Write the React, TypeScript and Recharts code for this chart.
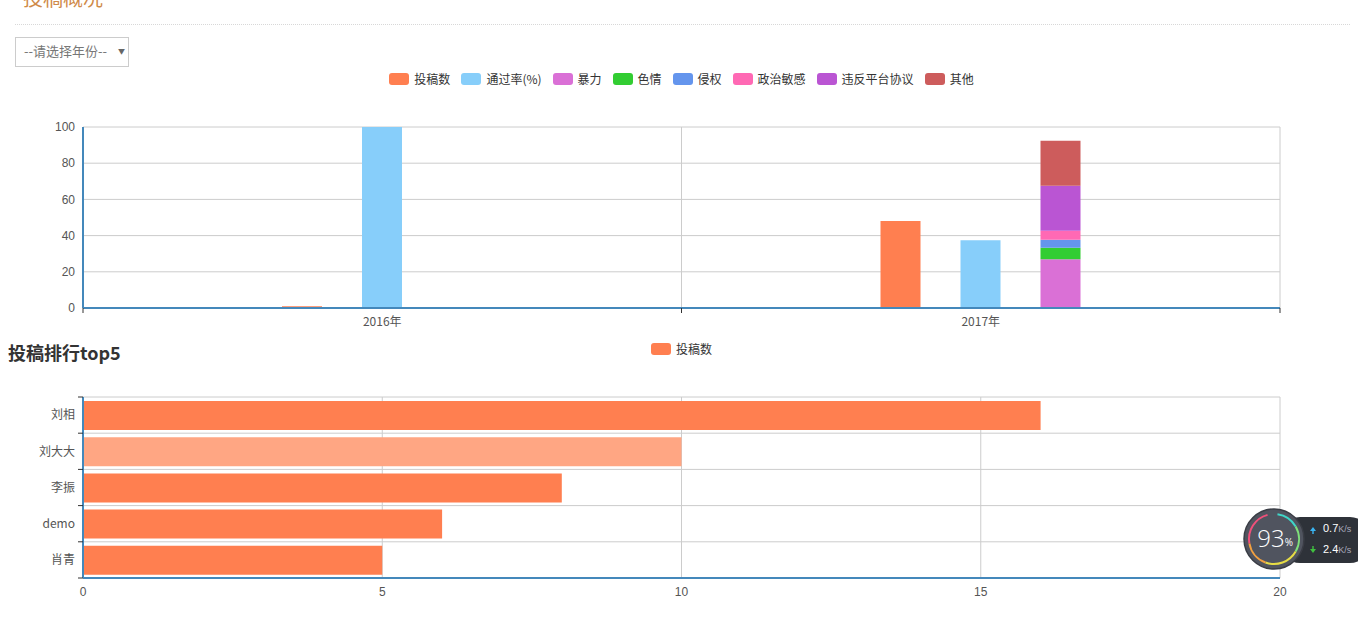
import React from "react";
import { BarChart, Bar, XAxis, YAxis, CartesianGrid, Cell } from "recharts";

// overview per year
const years = ["2016年", "2017年"];
const submitCount = [1, 48];
const passRate = [100, 37.5];
const violence = [0, 27];
const porn = [0, 6.3];
const infringe = [0, 4.4];
const political = [0, 5];
const breachTerms = [0, 24.9];
const otherReason = [0, 24.8];
const overviewTicks = [0, 20, 40, 60, 80, 100];

// top5 ranking
const rankNames = ["刘相", "刘大大", "李振", "demo", "肖青"];
const rankCounts = [16, 10, 8, 6, 5];
const rankTicks = [0, 5, 10, 15, 20];
const hoveredName = "刘大大";

const seriesKeys = [
  { key: "submit", name: "投稿数", color: "#ff7f50", stack: "a" },
  { key: "pass", name: "通过率(%)", color: "#87cefa", stack: "b" },
  { key: "violence", name: "暴力", color: "#da70d6", stack: "c" },
  { key: "porn", name: "色情", color: "#32cd32", stack: "c" },
  { key: "infringe", name: "侵权", color: "#6495ed", stack: "c" },
  { key: "political", name: "政治敏感", color: "#ff69b4", stack: "c" },
  { key: "breach", name: "违反平台协议", color: "#ba55d3", stack: "c" },
  { key: "other", name: "其他", color: "#cd5c5c", stack: "c" },
];

const overviewData = years.map((y, i) => ({
  year: y,
  submit: submitCount[i],
  pass: passRate[i],
  violence: violence[i],
  porn: porn[i],
  infringe: infringe[i],
  political: political[i],
  breach: breachTerms[i],
  other: otherReason[i],
}));

const rankData = rankNames.map((n, i) => ({ name: n, count: rankCounts[i] }));

const AXIS = "#4488bb";
const GRID = "#cccccc";
const LABEL = "#555";
const FONT = "'Liberation Sans', 'Noto Sans CJK SC', sans-serif";
const CJK = "'Noto Sans CJK SC', 'Liberation Sans', sans-serif";

const PLOT_LEFT = 83;
const PLOT_RIGHT = 78;
const PLOT_W = 1358 - PLOT_LEFT - PLOT_RIGHT;
const RANK_PLOT_H = 181;

function YearTick(props: any) {
  const { x, y, payload, index } = props;
  const half = PLOT_W / years.length / 2;
  const axisY = y - 8;
  return (
    <g>
      <line x1={x - half} x2={x - half} y1={axisY} y2={axisY + 5} stroke="#333" />
      {index === years.length - 1 && (
        <line x1={x + half} x2={x + half} y1={axisY} y2={axisY + 5} stroke="#333" />
      )}
      <text x={x} y={y} dy="0.85em" textAnchor="middle" fill={LABEL} fontSize={12} fontFamily={CJK}>
        {payload.value}
      </text>
    </g>
  );
}

function NameTick(props: any) {
  const { x, y, payload, index } = props;
  const half = RANK_PLOT_H / rankNames.length / 2;
  return (
    <g>
      <line x1={x + 3} x2={x + 8} y1={y - half} y2={y - half} stroke="#333" />
      {index === rankNames.length - 1 && (
        <line x1={x + 3} x2={x + 8} y1={y + half} y2={y + half} stroke="#333" />
      )}
      <text x={x} y={y} dy="0.35em" textAnchor="end" fill={LABEL} fontSize={12} fontFamily={CJK}>
        {payload.value}
      </text>
    </g>
  );
}

function LegendItem({ name, color, last }: { name: string; color: string; last?: boolean }) {
  return (
    <div style={{ display: "flex", alignItems: "center", marginRight: last ? 0 : 11 }}>
      <div style={{ width: 20, height: 12, borderRadius: 3, background: color, marginRight: 5 }} />
      <span style={{ fontSize: 12, color: "#333", fontFamily: CJK, lineHeight: "14px" }}>{name}</span>
    </div>
  );
}

function NetWidget() {
  const cx = 34;
  const cy = 39;
  const r = 25;
  const arc = (a0: number, a1: number) => {
    const p = (a: number) => {
      const rad = ((a - 90) * Math.PI) / 180;
      return `${cx + r * Math.cos(rad)} ${cy + r * Math.sin(rad)}`;
    };
    return `M ${p(a0)} A ${r} ${r} 0 0 1 ${p(a1)}`;
  };
  return (
    <svg width={118} height={80} style={{ position: "absolute", left: 1240, top: 500 }}>
      <rect x={40} y={17} width={90} height={46} rx={20} fill="#2e3239" />
      <circle cx={cx} cy={cy} r={30} fill="#50545f" stroke="#3a3d45" strokeWidth={1.5} />
      <path d={arc(8, 60)} stroke="#3fd6c8" strokeWidth={2} fill="none" />
      <path d={arc(60, 120)} stroke="#7fe07a" strokeWidth={2} fill="none" />
      <path d={arc(120, 200)} stroke="#e6dc45" strokeWidth={2} fill="none" />
      <path d={arc(200, 260)} stroke="#f2a040" strokeWidth={2} fill="none" />
      <path d={arc(260, 345)} stroke="#f0507a" strokeWidth={2} fill="none" />
      <text x={31} y={47} textAnchor="middle" fill="#fff" fontSize={24} fontFamily="'Open Sans', sans-serif" fontWeight={300}>
        93
      </text>
      <text x={49} y={46} textAnchor="middle" fill="#fff" fontSize={10} fontFamily="'Open Sans', sans-serif">
        %
      </text>
      <path d="M 70 31 L 73 27 L 76 31 Z M 72.3 31 L 73.7 31 L 73.7 34 L 72.3 34 Z" fill="#3ab4f2" />
      <path d="M 70 49 L 73 53 L 76 49 Z M 72.3 49 L 73.7 49 L 73.7 46 L 72.3 46 Z" fill="#40c040" />
      <text x={83} y={32} fill="#fff" fontSize={11} fontFamily={FONT}>
        0.7<tspan fill="#aab" fontSize={9}>K/s</tspan>
      </text>
      <text x={83} y={53} fill="#fff" fontSize={11} fontFamily={FONT}>
        2.4<tspan fill="#aab" fontSize={9}>K/s</tspan>
      </text>
    </svg>
  );
}

export default function App() {
  return (
    <div style={{ position: "absolute", left: 0, top: 0, width: 1358, height: 625, background: "#fff", overflow: "hidden" }}>
      <div style={{ position: "absolute", left: 23, top: -12, fontSize: 20, lineHeight: "20px", color: "#cf8a48", fontFamily: CJK }}>
        投稿概况
      </div>
      <div style={{ position: "absolute", left: 15, top: 24, width: 1335, borderTop: "1px dotted #d8d8d8" }} />
      <div
        style={{
          position: "absolute",
          left: 15,
          top: 37,
          width: 112,
          height: 28,
          border: "1px solid #ccc",
          fontFamily: CJK,
          fontSize: 13,
          color: "#777",
          boxSizing: "content-box",
        }}
      >
        <span style={{ position: "absolute", left: 8, top: 5, lineHeight: "16px" }}>--请选择年份--</span>
        <span style={{ position: "absolute", left: 102, top: 8, fontSize: 7, color: "#666" }}>▼</span>
      </div>

      <div
        style={{
          position: "absolute",
          left: PLOT_LEFT,
          top: 72,
          width: PLOT_W,
          display: "flex",
          justifyContent: "center",
        }}
      >
        {seriesKeys.map((s, i) => (
          <LegendItem key={s.key} name={s.name} color={s.color} last={i === seriesKeys.length - 1} />
        ))}
      </div>

      <div style={{ position: "absolute", left: 0, top: 100 }}>
        <BarChart
          width={1358}
          height={240}
          data={overviewData}
          margin={{ top: 27, right: PLOT_RIGHT, left: 43, bottom: 2 }}
          barSize={40}
          barGap={40}
        >
          <CartesianGrid
            stroke={GRID}
            verticalCoordinatesGenerator={({ offset }: any) =>
              years.map((_, i) => offset.left + (offset.width * i) / years.length).concat(offset.left + offset.width)
            }
          />
          <XAxis
            dataKey="year"
            height={30}
            axisLine={{ stroke: AXIS, strokeWidth: 2 }}
            tickLine={false}
            tickSize={0}
            tickMargin={8}
            tick={<YearTick />}
          />
          <YAxis
            width={40}
            domain={[0, 100]}
            ticks={overviewTicks}
            axisLine={{ stroke: AXIS, strokeWidth: 2 }}
            tickLine={false}
            tickSize={0}
            tickMargin={8}
            tick={{ fontSize: 12, fill: LABEL, fontFamily: FONT }}
          />
          {seriesKeys.map((s) => (
            <Bar key={s.key} dataKey={s.key} name={s.name} stackId={s.stack} fill={s.color} isAnimationActive={false} />
          ))}
        </BarChart>
      </div>

      <div style={{ position: "absolute", left: 8, top: 340, fontSize: 18, fontWeight: "bold", color: "#333", fontFamily: CJK, lineHeight: "24px" }}>
        投稿排行top5
      </div>
      <div style={{ position: "absolute", left: PLOT_LEFT, top: 342, width: PLOT_W, display: "flex", justifyContent: "center" }}>
        <LegendItem name="投稿数" color="#ff7f50" last />
      </div>

      <div style={{ position: "absolute", left: 0, top: 380 }}>
        <BarChart
          width={1358}
          height={240}
          data={rankData}
          layout="vertical"
          margin={{ top: 17, right: PLOT_RIGHT, left: 33, bottom: 12 }}
          barSize={29}
        >
          <CartesianGrid
            stroke={GRID}
            horizontalCoordinatesGenerator={({ offset }: any) =>
              rankNames.map((_, i) => offset.top + (offset.height * i) / rankNames.length).concat(offset.top + offset.height)
            }
          />
          <XAxis
            type="number"
            domain={[0, 20]}
            ticks={rankTicks}
            height={30}
            axisLine={{ stroke: AXIS, strokeWidth: 2 }}
            tickLine={false}
            tickSize={0}
            tickMargin={9}
            tick={{ fontSize: 12, fill: LABEL, fontFamily: FONT }}
          />
          <YAxis
            type="category"
            dataKey="name"
            width={50}
            axisLine={{ stroke: AXIS, strokeWidth: 2 }}
            tickLine={false}
            tickSize={0}
            tickMargin={8}
            tick={<NameTick />}
          />
          <Bar dataKey="count" name="投稿数" fill="#ff7f50" isAnimationActive={false}>
            {rankData.map((d) => (
              <Cell key={d.name} fill={d.name === hoveredName ? "#ffa683" : "#ff7f50"} />
            ))}
          </Bar>
        </BarChart>
      </div>

      <NetWidget />
    </div>
  );
}
